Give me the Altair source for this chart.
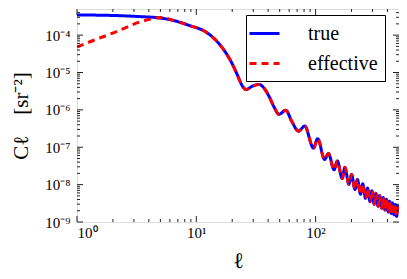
import altair as alt
import pandas as pd

# multipole values (shared grid)
ell = [1, 1.5, 2.2, 3.35, 4.6, 6.3, 8.7, 12.1, 14, 16.5, 19.6, 22, 24, 26.1, 29.5, 33.5, 37,
       40.7, 45, 49.3, 56.2, 63, 72, 81, 96, 104, 119, 128, 143, 152, 167, 176, 190, 200,
       214, 224, 238, 248, 262, 272, 286, 296, 310, 320, 334, 344, 358, 368, 382, 392,
       406, 416, 430, 440, 454, 464, 478, 488, 500]
# "true" spectrum [sr^-2]
cl_true = [3.47e-4, 3.42e-4, 3.33e-4, 3.13e-4, 2.95e-4, 2.51e-4, 1.82e-4, 1.20e-4, 8.3e-5,
           4.6e-5, 1.93e-5, 8.9e-6, 4.7e-6, 3.5e-6, 4.3e-6, 4.8e-6, 3.8e-6,
           2.3e-6, 1.17e-6, 7.6e-7, 9.8e-7, 5.0e-7, 2.7e-7, 3.7e-7, 9.5e-8, 1.7e-7,
           4.7e-8, 6.8e-8, 2.5e-8, 4.3e-8, 1.45e-8, 2.9e-8, 1.02e-8, 1.86e-8,
           7.4e-9, 1.38e-8, 5.5e-9, 1.05e-8, 4.3e-9, 8.1e-9, 3.5e-9, 6.9e-9, 3.0e-9, 5.9e-9,
           2.65e-9, 5.1e-9, 2.35e-9, 4.5e-9, 2.1e-9, 4.05e-9, 1.86e-9, 3.6e-9, 1.7e-9,
           3.25e-9, 1.55e-9, 2.95e-9, 1.4e-9, 2.7e-9, 2.0e-9]
# "effective" spectrum at low multipoles (identical to "true" from ell = 6.3 on)
ell_eff_low = [1, 1.4, 1.9, 2.6, 3.35, 4.2, 5.0, 5.6]
cl_eff_low = [4.8e-5, 7.4e-5, 1.07e-4, 1.62e-4, 2.24e-4, 2.7e-4, 2.95e-4, 2.8e-4]
merge_ell = 6.3

series = ["true", "effective"]
colors = ["#0000ff", "#ff0000"]

x_major = [1, 10, 100]
x_minor = [2, 3, 4, 5, 6, 7, 8, 9, 20, 30, 40, 50, 60, 70, 80, 90, 200, 300, 400]
y_major = [1e-9, 1e-8, 1e-7, 1e-6, 1e-5, 1e-4]
y_minor = [m * d for d in [1e-9, 1e-8, 1e-7, 1e-6, 1e-5] for m in range(2, 10)] + \
          [m * 1e-4 for m in range(2, 5)]

df_true = pd.DataFrame({"ell": ell, "cl": cl_true, "series": "true"})
eff_ell = ell_eff_low + [l for l in ell if l >= merge_ell]
eff_cl = cl_eff_low + [c for l, c in zip(ell, cl_true) if l >= merge_ell]
df_eff = pd.DataFrame({"ell": eff_ell, "cl": eff_cl, "series": "effective"})

W, H = 322, 213
FONT = "Liberation Serif"
MAJOR, MINOR = 6, 3

xs = alt.Scale(type="log", domain=[1, 500], nice=False)
ys = alt.Scale(type="log", domain=[1e-9, 5e-4], nice=False)

x_lab_expr = "datum.value == 1 ? '10⁰' : datum.value == 10 ? '10¹' : '10²'"
y_lab_expr = "'10⁻' + ['⁰','¹','²','³','⁴','⁵','⁶','⁷','⁸','⁹'][round(-log(datum.value)/LN10)]"


def make_legend():
    return alt.Legend(title=None, orient="none", legendX=169, legendY=6,
                      symbolType="M-1.5,0L1.5,0", symbolSize=400,
                      symbolStrokeWidth=3, labelFont=FONT,
                      labelFontSize=20, labelColor="black",
                      strokeColor="black", fillColor="white",
                      padding=7, rowPadding=8, labelOffset=32,
                      cornerRadius=0)


color_enc = alt.Color("series:N", scale=alt.Scale(domain=series, range=colors),
                      legend=make_legend())
dash_enc = alt.StrokeDash("series:N", scale=alt.Scale(domain=series, range=[[1, 0], [7, 5]]),
                          legend=make_legend())

blue = alt.Chart(df_true).mark_line(strokeWidth=3, interpolate="monotone", clip=True).encode(
    x=alt.X("ell:Q", scale=xs,
            axis=alt.Axis(orient="bottom", values=x_major, labelExpr=x_lab_expr, ticks=False,
                          domain=False, grid=False, labelFont=FONT, labelFontSize=15,
                          labelColor="black", labelPadding=3, title="ℓ", titleFont=FONT,
                          titleFontSize=22, titleFontWeight="normal", titleColor="black",
                          titleX=W / 2, titleY=38, titleBaseline="middle")),
    y=alt.Y("cl:Q", scale=ys,
            axis=alt.Axis(orient="left", values=y_major, labelExpr=y_lab_expr, ticks=False,
                          domain=False, grid=False, labelFont=FONT, labelFontSize=15,
                          labelColor="black", labelPadding=7,
                          title="Cℓ\u2003[sr⁻²]", titleFont=FONT, titleFontSize=21,
                          titleFontWeight="normal", titleColor="black",
                          titleX=-56, titleY=H / 2, titleAngle=270, titleAlign="center",
                          titleBaseline="middle")),
    color=color_enc,
    strokeDash=dash_enc,
)

red = alt.Chart(df_eff).mark_line(strokeWidth=3, interpolate="monotone", clip=True).encode(
    x=alt.X("ell:Q", scale=xs, axis=None),
    y=alt.Y("cl:Q", scale=ys, axis=None),
    color=color_enc,
    strokeDash=dash_enc,
)


def x_ticks(values, length, at_top):
    yc = length / 2 if at_top else H - length / 2
    return alt.Chart(pd.DataFrame({"ell": values})).mark_tick(
        color="#222222", thickness=1, size=length, orient="vertical", opacity=1).encode(
        x=alt.X("ell:Q", scale=xs, axis=None), y=alt.value(yc))


def y_ticks(values, length, at_right):
    xc = W - length / 2 if at_right else length / 2
    return alt.Chart(pd.DataFrame({"cl": values})).mark_tick(
        color="#222222", thickness=1, size=length, orient="horizontal", opacity=1).encode(
        y=alt.Y("cl:Q", scale=ys, axis=None), x=alt.value(xc))


ticks = [x_ticks(x_major, MAJOR, False), x_ticks(x_minor, MINOR, False),
         x_ticks(x_major, MAJOR, True), x_ticks(x_minor, MINOR, True),
         y_ticks(y_major, MAJOR, False), y_ticks(y_minor, MINOR, False),
         y_ticks(y_major, MAJOR, True), y_ticks(y_minor, MINOR, True)]

chart = alt.layer(blue, red, *ticks).resolve_axis(
    x="independent", y="independent"
).properties(
    width=W, height=H,
    autosize=alt.AutoSizeParams(type="none"),
    padding={"left": 69, "top": 1, "right": 0, "bottom": 49},
).configure_view(stroke="#222222", strokeWidth=1.2).configure(background="white")

chart.save("out.html", embed_options={"renderer": "svg", "actions": False})
